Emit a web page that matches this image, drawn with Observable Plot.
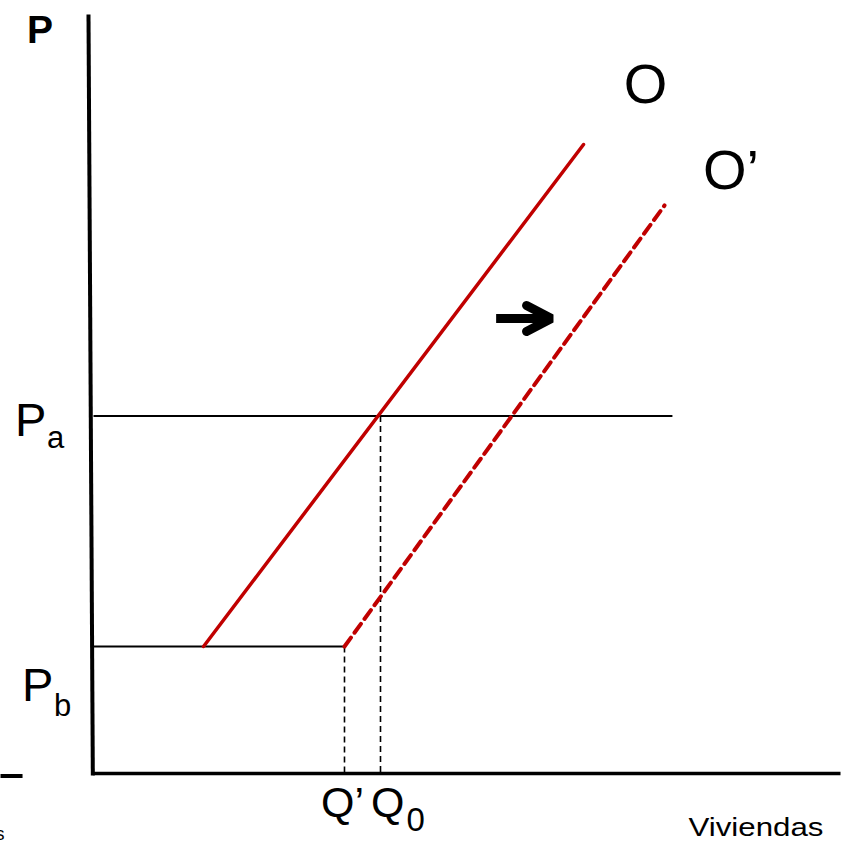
<!DOCTYPE html>
<html>
<head>
<meta charset="utf-8">
<script src="https://cdn.jsdelivr.net/npm/d3@7"></script>
<script src="https://cdn.jsdelivr.net/npm/@observablehq/plot@0.6"></script>
<style>
  html, body { margin: 0; padding: 0; background: #fff; }
</style>
</head>
<body>
<div id="chart"></div>
<script>
// Supply curves (quantity x, price y)
const supplyO = [
  {x: 14.73, y: 16.73},
  {x: 65.60, y: 82.87}
];
const supplyO2 = [
  {x: 33.60, y: 16.73},
  {x: 76.44, y: 74.84}
];
// Price levels
const priceA = 47.1;
const priceB = 16.73;
// Quantities
const qZero = 38.42;
const qPrime = 33.60;
// Horizontal price lines
const priceLines = [
  {x1: 0, x2: 77.5, y: priceA},
  {x1: 0, x2: qPrime, y: priceB}
];
// Dashed guides down to quantity axis
const qGuides = [
  {x: qZero, y1: priceA, y2: 0},
  {x: qPrime, y1: priceB, y2: 0}
];
// Axes lines
const yAxisLine = [{x1: -0.67, y1: 100, x2: -0.09, y2: -0.25}];
const xAxisLine = [{x1: -0.1, x2: 100, y: 0}];
const leftStub = [{x1: -12.45, x2: -9.5, y: -0.33}];
// Shift arrow
const shiftShaft = [{x1: 53.9, x2: 61.0, y: 59.95}];
const shiftHead = [
  {x: 57.97, y: 61.66},
  {x: 61.3, y: 59.95},
  {x: 57.97, y: 58.24}
];
// Labels (all start-anchored)
const mainLabels = [
  {text: "O", x: 71.0, y: 88.3, size: 56},
  {text: "O\u2019", x: 81.6, y: 77.0, size: 56},
  {text: "P", x: -10.5, y: 44.5, size: 47},
  {text: "P", x: -9.57, y: 9.49, size: 47},
  {text: "Q\u2019", x: 30.45, y: -5.67, size: 43},
  {text: "Q", x: 37.15, y: -5.67, size: 43}
];
const subLabels = [
  {text: "a", x: -6.22, y: 42.95, size: 31},
  {text: "b", x: -5.29, y: 7.51, size: 31},
  {text: "0", x: 41.9, y: -7.51, size: 33}
];
const axisTitleY = [{text: "P", x: -7.16, y: 96.3}];
const axisTitleX = [{text: "Viviendas", x: 79.65, y: -8.17}];
const fragment = [{text: "s", x: -11.9, y: -8.7}];

const red = "#C00000";
const font = "'Liberation Sans', Arial, Helvetica, sans-serif";

const chart = Plot.plot({
  width: 843,
  height: 842,
  margin: 0,
  x: {domain: [0, 100], range: [93, 840], axis: null},
  y: {domain: [0, 100], range: [773, 14], axis: null},
  style: {fontFamily: font, background: "#fff", overflow: "visible"},
  marks: [
    Plot.link(yAxisLine, {x1: "x1", y1: "y1", x2: "x2", y2: "y2", stroke: "#000", strokeWidth: 4, strokeLinecap: "butt"}),
    Plot.link(xAxisLine, {x1: "x1", x2: "x2", y1: "y", y2: "y", stroke: "#000", strokeWidth: 3.5}),
    Plot.link(leftStub, {x1: "x1", x2: "x2", y1: "y", y2: "y", stroke: "#000", strokeWidth: 4}),
    Plot.link(priceLines, {x1: "x1", x2: "x2", y1: "y", y2: "y", stroke: "#000", strokeWidth: 2}),
    Plot.link(qGuides, {x1: "x", x2: "x", y1: "y1", y2: "y2", stroke: "#000", strokeWidth: 1.6, strokeDasharray: "6,4"}),
    Plot.line(supplyO, {x: "x", y: "y", stroke: red, strokeWidth: 3.5}),
    Plot.line(supplyO2, {x: "x", y: "y", stroke: red, strokeWidth: 4, strokeDasharray: "11,6"}),
    Plot.link(shiftShaft, {x1: "x1", x2: "x2", y1: "y", y2: "y", stroke: "#000", strokeWidth: 9, strokeLinecap: "butt"}),
    Plot.line(shiftHead, {x: "x", y: "y", stroke: "#000", strokeWidth: 9, strokeLinecap: "round", strokeLinejoin: "miter"}),
    Plot.text(mainLabels, {x: "x", y: "y", text: "text", fontSize: d => d.size, textAnchor: "start", lineAnchor: "bottom", fill: "#000"}),
    Plot.text(subLabels, {x: "x", y: "y", text: "text", fontSize: d => d.size, textAnchor: "start", lineAnchor: "bottom", fill: "#000"}),
    Plot.text(axisTitleY, {x: "x", y: "y", text: "text", fontSize: 39, fontWeight: "bold", textAnchor: "middle", lineAnchor: "bottom", fill: "#000"}),
    Plot.text(axisTitleX, {x: "x", y: "y", text: "text", fontSize: 26, textAnchor: "start", lineAnchor: "bottom", fill: "#000"}),
    Plot.text(fragment, {x: "x", y: "y", text: "text", fontSize: 18, textAnchor: "end", lineAnchor: "bottom", fill: "#000"})
  ]
});
document.getElementById("chart").appendChild(chart);
// stretch the horizontal axis title to match the reference width
d3.select(chart).selectAll("text").filter(function() { return this.textContent === "Viviendas"; })
  .attr("textLength", 135).attr("lengthAdjust", "spacingAndGlyphs");
</script>
</body>
</html>
